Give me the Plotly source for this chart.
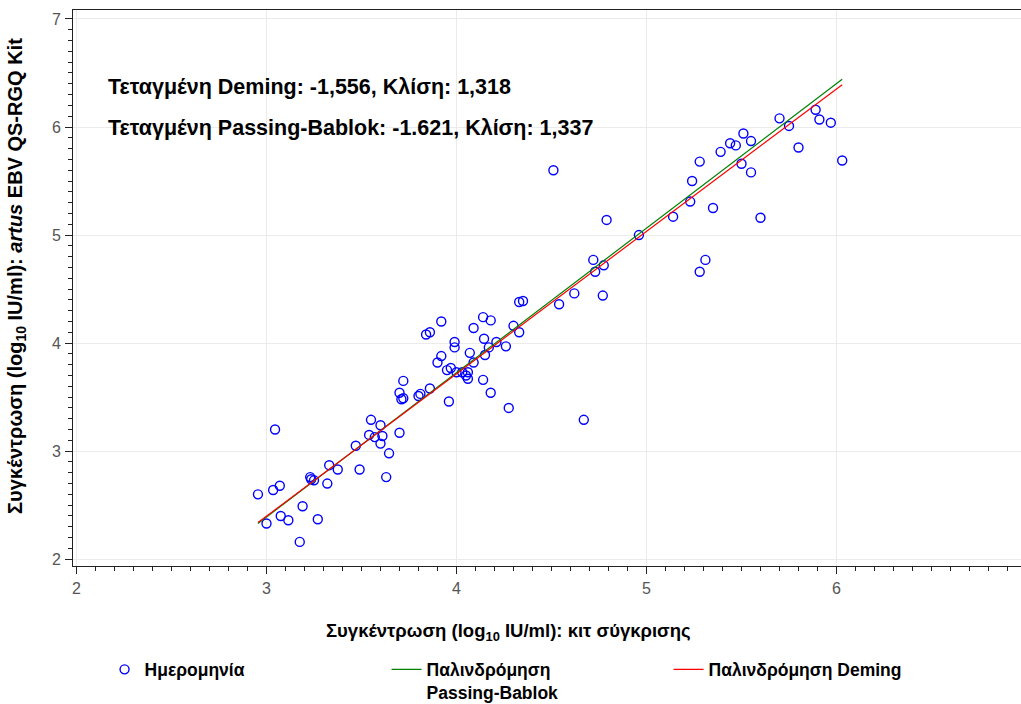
import plotly.graph_objects as go

# Data points (comparison kit, artus EBV QS-RGQ Kit), log10 IU/ml
x_vals = [2.955, 3.00, 3.035, 3.045, 3.07, 3.075, 3.115, 3.175, 3.19, 3.23,
          3.235, 3.25, 3.27, 3.32, 3.33, 3.375, 3.47, 3.49, 3.55, 3.54,
          3.57, 3.60, 3.61, 3.60, 3.645, 3.63, 3.70, 3.72, 3.70, 3.71,
          3.72, 3.80, 3.81, 3.86, 3.96, 3.90, 3.92, 3.95, 3.97, 3.99,
          3.99, 4.00, 4.03, 4.06, 4.05, 4.06, 4.07, 4.09, 4.14, 4.18,
          4.275, 4.145, 4.15, 4.17, 4.21, 4.26, 3.84, 3.86, 3.92, 4.09,
          4.14, 4.18, 4.30, 4.33, 4.33, 4.35, 4.51, 4.54, 4.62, 4.67,
          4.72, 4.775, 4.73, 4.77, 4.79, 4.96, 5.14, 5.23, 5.24, 5.28,
          5.35, 5.31, 5.28, 5.39, 5.44, 5.47, 5.51, 5.55, 5.50, 5.55,
          5.60, 5.70, 5.75, 5.80, 5.89, 5.91, 5.97, 6.03]
y_vals = [2.60, 2.33, 2.64, 3.20, 2.68, 2.40, 2.36, 2.16, 2.49, 2.76,
          2.74, 2.73, 2.37, 2.70, 2.87, 2.83, 3.05, 2.83, 3.29, 3.15,
          3.13, 3.24, 3.14, 3.07, 2.98, 2.76, 3.17, 3.65, 3.54, 3.48,
          3.49, 3.51, 3.53, 3.58, 3.46, 3.82, 3.88, 3.75, 3.77, 4.01,
          3.96, 3.73, 3.73, 3.73, 3.70, 3.67, 3.91, 3.82, 3.66, 3.54,
          3.40, 4.04, 3.89, 3.96, 4.01, 3.97, 4.08, 4.10, 4.20, 4.14,
          4.24, 4.21, 4.16, 4.10, 4.38, 4.39, 5.60, 4.36, 4.46, 3.29,
          4.77, 4.72, 4.66, 4.44, 5.14, 5.00, 5.17, 5.31, 5.50, 5.68,
          5.25, 4.77, 4.66, 5.77, 5.85, 5.83, 5.94, 5.87, 5.66, 5.58,
          5.16, 6.08, 6.01, 5.81, 6.16, 6.07, 6.04, 5.69]

# Regression parameters shown on the chart
pb_intercept, pb_slope = -1.621, 1.337
dm_intercept, dm_slope = -1.556, 1.318
line_x = [min(x_vals), max(x_vals)]
pb_y = [pb_intercept + pb_slope * v for v in line_x]
dm_y = [dm_intercept + dm_slope * v for v in line_x]

x_ticks = [2, 3, 4, 5, 6, 7]
y_ticks = [2, 3, 4, 5, 6, 7]

FONT = "Liberation Sans, Arial, sans-serif"

fig = go.Figure()
fig.add_trace(go.Scatter(
    x=x_vals, y=y_vals, mode="markers", name="<b>Ημερομηνία</b>",
    marker=dict(symbol="circle-open", size=9, color="#0000ff",
                line=dict(width=1.4, color="#0000ff")),
))
fig.add_trace(go.Scatter(
    x=line_x, y=pb_y, mode="lines", name="<b>Παλινδρόμηση<br>Passing-Bablok</b>",
    line=dict(color="#008000", width=1.2),
))
fig.add_trace(go.Scatter(
    x=line_x, y=dm_y, mode="lines", name="<b>Παλινδρόμηση Deming</b>",
    line=dict(color="#ff0000", width=1.2),
))

axis_common = dict(
    showgrid=True, gridcolor="#ebebeb", gridwidth=1,
    showline=True, linecolor="#222222", linewidth=1,
    ticks="outside", ticklen=7, tickwidth=1, tickcolor="#222222",
    tickfont=dict(family=FONT, size=16, color="#555555"),
    minor=dict(dtick=0.1, ticks="outside", ticklen=4, tickcolor="#222222",
               showgrid=False),
    zeroline=False,
)

fig.update_layout(
    width=1021, height=704,
    margin=dict(l=73, r=0, t=10, b=138, autoexpand=False),
    paper_bgcolor="white", plot_bgcolor="white",
    font=dict(family=FONT, color="black"),
    xaxis=dict(range=[1.9816, 6.971], tickvals=x_ticks, mirror=True,
               ticklabelstandoff=1, automargin=False, **axis_common),
    yaxis=dict(range=[1.937, 7.083], tickvals=y_ticks, mirror=False,
               ticklabelstandoff=1, automargin=False, **axis_common),
    legend=dict(orientation="h", xref="container", yref="container",
                x=0.1024, xanchor="left", y=0.0746, yanchor="top",
                font=dict(family=FONT, size=17.5, color="black"),
                entrywidth=237, valign="top", bgcolor="rgba(0,0,0,0)",
                traceorder="normal"),
    showlegend=True,
)

# Axis titles
fig.add_annotation(text="<b>Συγκέντρωση (log<sub>10</sub> IU/ml): κιτ σύγκρισης</b>",
                   xref="paper", yref="paper", x=0.4589, y=-0.1187,
                   xanchor="center", yanchor="middle", showarrow=False,
                   font=dict(family=FONT, size=18.5, color="black"))
fig.add_annotation(text="<b>Συγκέντρωση (log<sub>10</sub> IU/ml): <i>artus</i> EBV QS-RGQ Kit</b>",
                   xref="paper", yref="paper", x=-0.0591, y=0.5216, textangle=-90,
                   xanchor="center", yanchor="middle", showarrow=False,
                   font=dict(family=FONT, size=20, color="black"))

# Regression parameter labels
fig.add_annotation(text="<b>Τεταγμένη Deming: -1,556, Κλίση: 1,318</b>",
                   xref="paper", yref="paper", x=0.0348, y=0.8615,
                   xanchor="left", yanchor="middle", showarrow=False,
                   font=dict(family=FONT, size=21.5, color="black"))
fig.add_annotation(text="<b>Τεταγμένη Passing-Bablok: -1.621, Κλίση: 1,337</b>",
                   xref="paper", yref="paper", x=0.0348, y=0.7878,
                   xanchor="left", yanchor="middle", showarrow=False,
                   font=dict(family=FONT, size=21.5, color="black"))

fig.write_html("out.html")
